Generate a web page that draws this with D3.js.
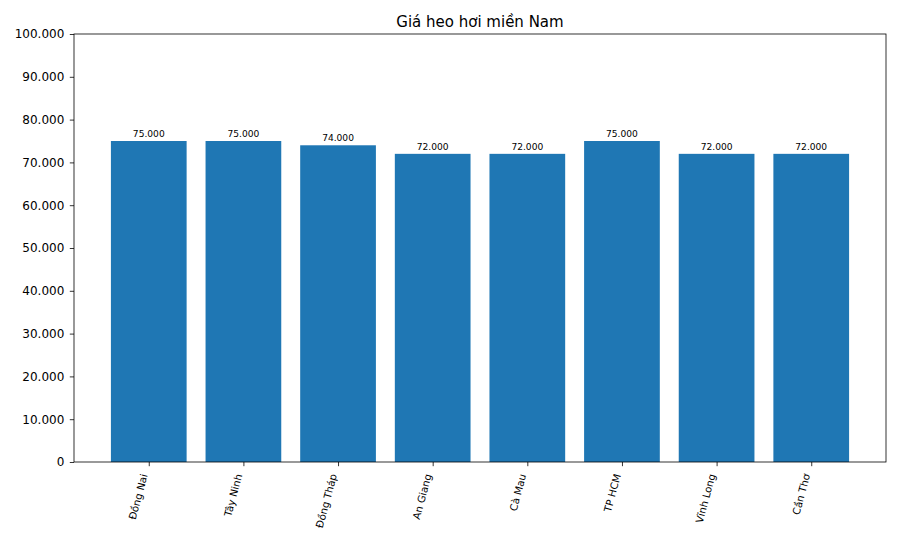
<!DOCTYPE html>
<html lang="vi">
  <head>
    <meta charset="UTF-8" />
    <script src="https://d3js.org/d3.v7.min.js"></script>
    <style>
      body { margin: 0; background: #fff; }
      svg { font-family: "DejaVu Sans", sans-serif; }
    </style>
  </head>
  <body>
    <svg id="chart" width="900" height="540"></svg>
    <script>
      // data
      const provinces = ["Đồng Nai", "Tây Ninh", "Đồng Tháp", "An Giang", "Cà Mau", "TP HCM", "Vĩnh Long", "Cần Thơ"];
      const prices = [75000, 75000, 74000, 72000, 72000, 75000, 72000, 72000];
      const yTicks = [0, 10000, 20000, 30000, 40000, 50000, 60000, 70000, 80000, 90000, 100000];

      const svg = d3.select("#chart");
      const mLeft = 74, mRight = 886, mTop = 34, mBottom = 462;

      const vn = d3.formatLocale({ decimal: ",", thousands: ".", grouping: [3], currency: ["", ""] });
      const fmt = vn.format(",d");

      // same limits matplotlib would give 8 bars of width 0.8
      const x = d3.scaleLinear().domain([-0.79, provinces.length - 1 + 0.79]).range([mLeft, mRight]);
      const y = d3.scaleLinear().domain([0, 100000]).range([mBottom, mTop]);
      const barW = x(0.8) - x(0);

      svg.selectAll("rect.bar")
        .data(prices)
        .join("rect")
        .attr("class", "bar")
        .attr("x", (d, i) => x(i) - barW / 2)
        .attr("width", barW)
        .attr("y", d => y(d))
        .attr("height", d => y(0) - y(d))
        .attr("fill", "#1f77b4");

      // value labels on top of bars
      svg.selectAll("text.val")
        .data(prices)
        .join("text")
        .attr("class", "val")
        .attr("x", (d, i) => x(i))
        .attr("y", d => y(d) - 4)
        .attr("text-anchor", "middle")
        .attr("font-size", "9.1px")
        .text(d => fmt(d));

      // y axis
      const yAxis = svg.append("g")
        .attr("transform", `translate(${mLeft},0)`)
        .call(d3.axisLeft(y).tickValues(yTicks).tickFormat(fmt).tickSize(4.2).tickPadding(5.5));
      yAxis.select(".domain").remove();
      yAxis.selectAll("text").attr("font-size", "12px").attr("fill", "#000").attr("font-family", "DejaVu Sans");
      yAxis.selectAll("line").attr("stroke", "#000").attr("stroke-width", 0.8);

      // x axis, labels rotated 75deg and right aligned on the tick
      const xAxis = svg.append("g")
        .attr("transform", `translate(0,${mBottom})`)
        .call(d3.axisBottom(x).tickValues(d3.range(provinces.length)).tickFormat(i => provinces[i]).tickSize(4.2));
      xAxis.select(".domain").remove();
      xAxis.selectAll("line").attr("stroke", "#000").attr("stroke-width", 0.8);
      xAxis.selectAll("text")
        .attr("font-size", "10.2px")
        .attr("font-family", "DejaVu Sans")
        .attr("fill", "#000")
        .attr("text-anchor", "end")
        .attr("dy", "0.35em")
        .attr("transform", "translate(-5,12) rotate(-75)")
        .attr("y", 0)
        .attr("x", 0);

      // frame
      svg.append("rect")
        .attr("x", mLeft).attr("y", mTop)
        .attr("width", mRight - mLeft).attr("height", mBottom - mTop)
        .attr("fill", "none").attr("stroke", "#000").attr("stroke-width", 0.8);

      // title
      svg.append("text")
        .attr("x", (mLeft + mRight) / 2)
        .attr("y", mTop - 7.5)
        .attr("text-anchor", "middle")
        .attr("font-size", "15px")
        .text("Giá heo hơi miền Nam");
    </script>
  </body>
</html>
